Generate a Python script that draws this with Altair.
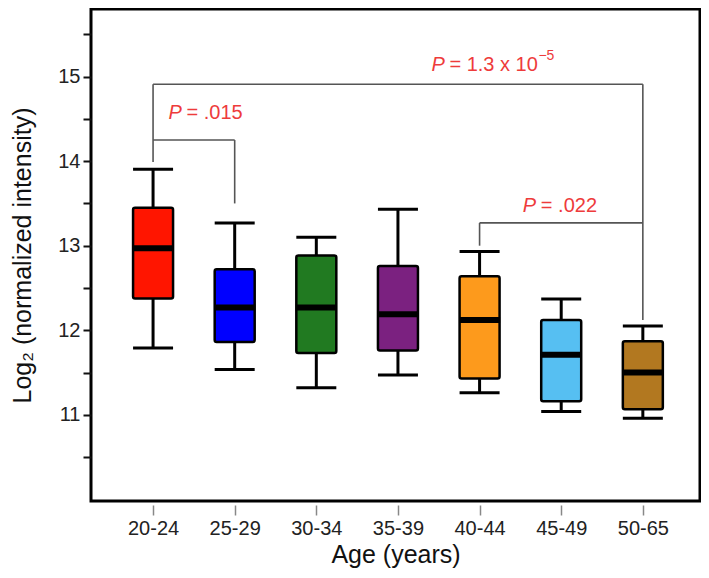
import json
import altair as alt
import pandas as pd

# ---- data ----
ages = ["20-24", "25-29", "30-34", "35-39", "40-44", "45-49", "50-65"]
w_low = [11.79, 11.535, 11.32, 11.47, 11.26, 11.04, 10.96]
q1 = [12.375, 11.86, 11.73, 11.76, 11.43, 11.16, 11.065]
median = [12.97, 12.27, 12.27, 12.19, 12.12, 11.71, 11.50]
q3 = [13.45, 12.72, 12.885, 12.76, 12.64, 12.12, 11.87]
w_high = [13.905, 13.27, 13.10, 13.43, 12.93, 12.37, 12.05]
box_colors = ["#ff1500", "#0000ff", "#217a21", "#7b2180", "#fd9a1c", "#56bff2", "#b27820"]

# significance brackets (category index of ends, bar level, leg ends)
brk_from = [0, 0, 4]
brk_to = [6, 1, 6]
brk_level = [14.91, 14.25, 13.27]
brk_left_end = [13.99, 14.25, 13.0]
brk_right_end = [12.12, 13.5, 13.27]

# p-value labels
p_x = [0.19, 3.41, 4.53]
p_y = [14.57, 15.14, 13.47]
p_rest = ["= .015", "= 1.3 x 10", "= .022"]
sup_x = [3.41]
sup_y = [15.14]
sup_text = ["\u22125"]

RED = "#ee3b3b"
FONT = "Liberation Sans"

boxes = pd.DataFrame({
    "idx": list(range(len(ages))), "age": ages, "lo": w_low, "q1": q1,
    "med": median, "q3": q3, "hi": w_high,
})
brk = pd.DataFrame({"a": brk_from, "b": brk_to, "lvl": brk_level,
                    "le": brk_left_end, "re": brk_right_end})
ptxt = pd.DataFrame({"px": p_x, "py": p_y, "rest": p_rest, "p": ["P"] * len(p_x)})
stxt = pd.DataFrame({"px": sup_x, "py": sup_y, "t": sup_text})

xscale = alt.Scale(domain=[-0.699, 6.639], nice=False, zero=False)
yscale = alt.Scale(domain=[9.98, 15.80], nice=False, zero=False)
XT = "Age (years)"
YT = "Log\u2082 (normalized intensity)"

xaxis = alt.Axis(
    values=list(range(len(ages))),
    labelExpr=json.dumps(ages) + "[datum.value]",
    domain=False, offset=4, grid=False,
    tickColor="#888888", tickWidth=1.5, tickSize=10,
    labelFontSize=20, labelFont=FONT, labelColor="#222222", labelPadding=3,
    titleFontSize=25, titleFont=FONT, titleFontWeight="normal",
    titleColor="#111111", titlePadding=4,
)
yaxis = alt.Axis(
    values=[10.5, 11, 11.5, 12, 12.5, 13, 13.5, 14, 14.5, 15, 15.5],
    labelExpr="datum.value % 1 == 0 ? format(datum.value, 'd') : ''",
    domain=False, grid=False,
    tickColor="#111111", tickWidth=2, tickSize=8,
    labelFontSize=20, labelFont=FONT, labelColor="#222222", labelPadding=3,
    titleFontSize=25, titleFont=FONT, titleFontWeight="normal",
    titleColor="#111111", titlePadding=22,
)

base = alt.Chart(boxes)

whisk_lo = base.mark_rule(color="black", strokeWidth=3).encode(
    x=alt.X("idx:Q", scale=xscale, axis=xaxis, title=XT),
    y=alt.Y("lo:Q", scale=yscale, axis=yaxis, title=YT),
    y2="q1:Q",
)
whisk_hi = base.mark_rule(color="black", strokeWidth=3).encode(
    x=alt.X("idx:Q", title=XT), y=alt.Y("q3:Q", title=YT), y2="hi:Q"
)
cap_lo = base.mark_tick(orient="horizontal", color="black", size=40, thickness=3, opacity=1).encode(
    x=alt.X("idx:Q", title=XT), y=alt.Y("lo:Q", title=YT)
)
cap_hi = base.mark_tick(orient="horizontal", color="black", size=40, thickness=3, opacity=1).encode(
    x=alt.X("idx:Q", title=XT), y=alt.Y("hi:Q", title=YT)
)
box = base.mark_bar(size=40, stroke="black", strokeWidth=2.5, cornerRadius=2, opacity=1).encode(
    x=alt.X("idx:Q", title=XT), y=alt.Y("q1:Q", title=YT), y2="q3:Q",
    color=alt.Color("age:N", scale=alt.Scale(domain=ages, range=box_colors), legend=None),
)
med = base.mark_tick(orient="horizontal", color="black", size=41, thickness=6, opacity=1).encode(
    x=alt.X("idx:Q", title=XT), y=alt.Y("med:Q", title=YT)
)

bb = alt.Chart(brk)
BR = dict(color="#555555", strokeWidth=1.6)
brk_h = bb.mark_rule(**BR).encode(x=alt.X("a:Q", title=XT), x2="b:Q", y=alt.Y("lvl:Q", title=YT))
brk_l = bb.mark_rule(**BR).encode(x=alt.X("a:Q", title=XT), y=alt.Y("lvl:Q", title=YT), y2="le:Q")
brk_r = bb.mark_rule(**BR).encode(x=alt.X("b:Q", title=XT), y=alt.Y("lvl:Q", title=YT), y2="re:Q")

pt = alt.Chart(ptxt)
p_it = pt.mark_text(font=FONT, fontSize=20, fontStyle="italic", color=RED,
                    align="left", baseline="middle").encode(
    x=alt.X("px:Q", title=XT), y=alt.Y("py:Q", title=YT), text="p:N")
p_rest_t = pt.mark_text(font=FONT, fontSize=20, color=RED, align="left",
                        baseline="middle", dx=18).encode(
    x=alt.X("px:Q", title=XT), y=alt.Y("py:Q", title=YT), text="rest:N")
sup = alt.Chart(stxt).mark_text(font=FONT, fontSize=14, color=RED, align="left",
                                baseline="middle", dx=107, dy=-9).encode(
    x=alt.X("px:Q", title=XT), y=alt.Y("py:Q", title=YT), text="t:N")

chart = alt.layer(
    brk_h, brk_l, brk_r, whisk_lo, whisk_hi, cap_lo, cap_hi, box, med, p_it, p_rest_t, sup
).properties(
    width=609, height=492,
    padding={"left": 83, "top": 1, "right": 1, "bottom": 69},
    autosize=alt.AutoSizeParams(type="none"),
    background="white",
).configure_view(stroke="black", strokeWidth=3)

chart.save("out.html", embed_options={"renderer": "svg", "actions": False})
